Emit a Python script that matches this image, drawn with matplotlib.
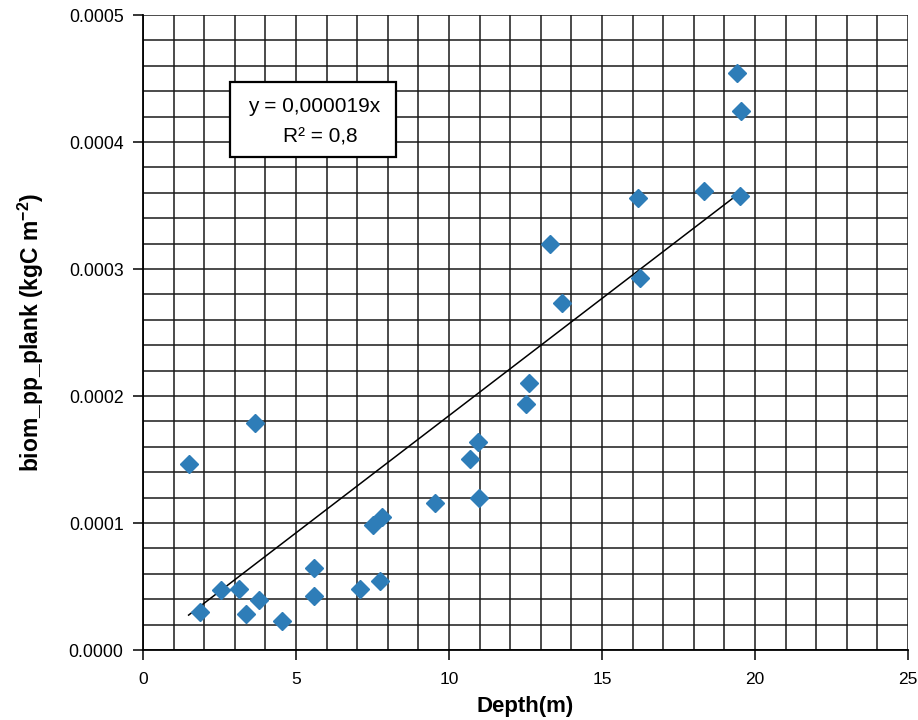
import numpy as np
import matplotlib
matplotlib.use("Agg")
import matplotlib.pyplot as plt
from matplotlib.ticker import MultipleLocator, FormatStrFormatter
from matplotlib.patches import Rectangle

depth = [1.49, 3.66, 1.85, 2.55, 3.14, 3.37, 3.79, 4.55, 5.58, 5.58,
         7.08, 7.73, 7.53, 7.82, 9.54, 10.70, 10.94, 10.99, 12.52, 12.61,
         13.31, 13.68, 16.19, 16.25, 18.33, 19.40, 19.55, 19.50]
biom = [0.0001467, 0.0001790, 0.0000297, 0.0000475, 0.0000478, 0.0000283, 0.0000396, 0.0000226, 0.0000646, 0.0000428,
        0.0000478, 0.0000541, 0.0000982, 0.0001047, 0.0001157, 0.0001501, 0.0001640, 0.0001194, 0.0001937, 0.0002102,
        0.0003200, 0.0002730, 0.0003557, 0.0002929, 0.0003614, 0.0004540, 0.0004247, 0.0003577]
eq_line1 = "y = 0,000019x"
eq_line2 = "R² = 0,8"

plt.rcParams['font.family'] = ['Liberation Sans', 'DejaVu Sans']
plt.rcParams['mathtext.fontset'] = 'custom'
plt.rcParams['mathtext.rm'] = 'Liberation Sans'
plt.rcParams['mathtext.bf'] = 'Liberation Sans:bold'

fig = plt.figure(figsize=(9.18, 7.2), dpi=100)
ax = fig.add_axes([0.1558, 0.0972, 0.8333, 0.8819])

x = np.array(depth)
y = np.array(biom)
slope = np.sum(x * y) / np.sum(x * x)
xs = np.array([x.min(), x.max()])
ax.plot(xs, slope * xs, color='black', lw=1.1, zorder=3)
ax.plot(x, y, linestyle='none', marker='D', markersize=9.5, color='#2E7DB8',
        markeredgecolor='#2E7DB8', zorder=4)

ax.set_xlim(0, 25)
ax.set_ylim(0, 0.0005)
ax.xaxis.set_major_locator(MultipleLocator(5))
ax.xaxis.set_minor_locator(MultipleLocator(1))
ax.yaxis.set_major_locator(MultipleLocator(0.0001))
ax.yaxis.set_minor_locator(MultipleLocator(0.00002))
ax.yaxis.set_major_formatter(FormatStrFormatter('%.4f'))
ax.grid(which='both', color='#1a1a1a', lw=1.1, zorder=0)
ax.set_axisbelow(True)
ax.tick_params(which='major', direction='out', length=7, width=1.1, color='black')
ax.tick_params(axis='y', which='major', labelsize=12.7, pad=7)
ax.tick_params(axis='x', which='major', labelsize=12.5, pad=9)
ax.tick_params(which='minor', length=0)
for s in ['top', 'right']:
    ax.spines[s].set_visible(False)
for s in ['left', 'bottom']:
    ax.spines[s].set_linewidth(1.3)
    ax.spines[s].set_color('black')

ax.set_xlabel('Depth(m)', fontsize=16, fontweight='bold', labelpad=6)
ax.set_ylabel(r'biom_pp_plank (kgC m$^{\mathbf{-2}}$)', fontsize=16.5, fontweight='bold', labelpad=16)

ax.add_patch(Rectangle((0.1137, 0.7764), 0.2170, 0.1181, transform=ax.transAxes,
                       facecolor='white', edgecolor='black', lw=1.6, zorder=5))
ax.text(0.2235, 0.8567, eq_line1, transform=ax.transAxes, fontsize=15, ha='center', va='center', zorder=6)
ax.text(0.2314, 0.8079, eq_line2, transform=ax.transAxes, fontsize=15, ha='center', va='center', zorder=6)

fig.savefig('out.png', dpi=100)
